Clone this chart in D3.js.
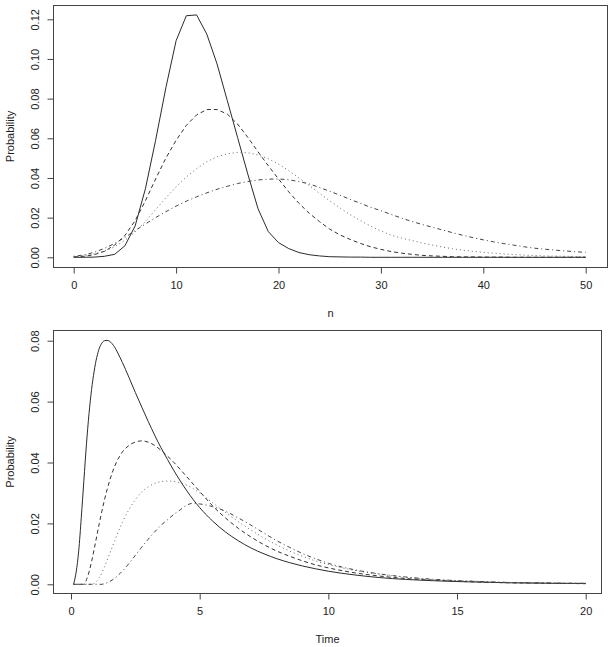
<!DOCTYPE html>
<html>
<head>
<meta charset="utf-8">
<script src="https://cdn.jsdelivr.net/npm/d3@7"></script>
<style>
  html, body { margin: 0; padding: 0; background: #fff; }
  svg { display: block; }
  text { font-family: "Liberation Sans", Arial, Helvetica, sans-serif; fill: #222; }
</style>
</head>
<body>
<svg id="chart" width="612" height="647"></svg>
<script>
// ---------- Top panel data (n = 0..50) ----------
const nValues = d3.range(0, 51);
const nSolid = [0,0,0.0001,0.0005,0.0015,0.0058,0.0158,0.0345,0.0590,0.0855,
  0.1092,0.1218,0.1222,0.1125,0.0975,0.0790,0.0605,0.0420,0.0245,0.0130,
  0.0074,0.0044,0.0024,0.0013,0.0007,0.0003,0.0002,0.0001,0.0001,0,
  0,0,0,0,0,0,0,0,0,0,
  0,0,0,0,0,0,0,0,0,0,0];
const nDashed = [0.0002,0.0005,0.0013,0.0030,0.0062,0.0110,0.0185,0.0285,0.0395,0.0500,
  0.0590,0.0665,0.0718,0.0745,0.0745,0.0722,0.0672,0.0605,0.0532,0.0462,
  0.0395,0.0330,0.0272,0.0222,0.0180,0.0142,0.0113,0.0090,0.0070,0.0053,
  0.0040,0.0029,0.0021,0.0015,0.0010,0.0007,0.0005,0.0003,0.0002,0.0002,
  0.0001,0.0001,0.0001,0,0,0,0,0,0,0,0];
const nDotted = [0.0003,0.0008,0.0017,0.0031,0.0053,0.0086,0.0128,0.0180,0.0240,0.0300,
  0.0355,0.0405,0.0447,0.0482,0.0507,0.0522,0.0529,0.0527,0.0516,0.0497,
  0.0470,0.0437,0.0400,0.0362,0.0323,0.0285,0.0249,0.0215,0.0185,0.0157,
  0.0133,0.0111,0.0097,0.0085,0.0072,0.0062,0.0052,0.0043,0.0036,0.0030,
  0.0025,0.0021,0.0017,0.0014,0.0011,0.0009,0.0007,0.0006,0.0005,0.0004,0.0003];
const nDotDash = [0.0005,0.0012,0.0025,0.0045,0.0070,0.0100,0.0135,0.0168,0.0200,0.0230,
  0.0258,0.0283,0.0305,0.0325,0.0343,0.0358,0.0372,0.0382,0.0390,0.0394,
  0.0395,0.0391,0.0382,0.0370,0.0352,0.0333,0.0313,0.0292,0.0272,0.0252,
  0.0235,0.0216,0.0198,0.0181,0.0166,0.0152,0.0138,0.0124,0.0111,0.0099,
  0.0088,0.0078,0.0069,0.0061,0.0053,0.0046,0.0041,0.0036,0.0032,0.0028,0.0025];
const nTicksX = [0, 10, 20, 30, 40, 50];
const nTicksY = [0, 0.02, 0.04, 0.06, 0.08, 0.10, 0.12];

// ---------- Bottom panel data (Time) ----------
const times = [0.1,0.2,0.3,0.4,0.5,0.6,0.7,0.8,0.9,1.0,1.1,1.2,1.3,1.4,1.5,1.6,1.7,1.8,1.9,2.0,
  2.25,2.5,2.75,3.0,3.25,3.5,3.75,4.0,4.25,4.5,4.75,5.0,
  5.5,6,6.5,7,7.5,8,8.5,9,9.5,10,
  11,12,13,14,15,16,17,18,19,20];
const tSolid = [0,0.004,0.011,0.022,0.034,0.046,0.056,0.064,0.070,0.0745,0.0775,0.0792,0.0800,0.0801,0.0798,0.0790,0.0778,0.0763,0.0746,0.0728,
  0.0680,0.0630,0.0582,0.0535,0.0490,0.0448,0.0410,0.0373,0.0339,0.0307,0.0278,0.0252,
  0.0208,0.0172,0.0143,0.0119,0.0100,0.0084,0.0071,0.0060,0.0051,0.0043,
  0.0031,0.0022,0.0016,0.0012,0.0009,0.0007,0.0005,0.0004,0.0003,0.0003];
const tDashed = [0,0,0,0,0,0.0015,0.004,0.0075,0.0115,0.0158,0.0200,0.0240,0.0277,0.0310,0.0340,0.0366,0.0388,0.0407,0.0422,0.0435,
  0.0456,0.0467,0.0471,0.0467,0.0456,0.0440,0.0421,0.0400,0.0377,0.0353,0.0329,0.0305,
  0.0258,0.0218,0.0184,0.0155,0.0130,0.0109,0.0092,0.0077,0.0064,0.0054,
  0.0038,0.0027,0.0019,0.0014,0.0010,0.0007,0.0005,0.0004,0.0003,0.0002];
const tDotted = [0,0,0,0,0,0,0,0,0.0003,0.0010,0.0022,0.0038,0.0057,0.0078,0.0100,0.0122,0.0144,0.0165,0.0185,0.0204,
  0.0245,0.0278,0.0303,0.0320,0.0331,0.0337,0.0339,0.0338,0.0333,0.0325,0.0314,0.0300,
  0.0268,0.0236,0.0206,0.0178,0.0152,0.0129,0.0109,0.0092,0.0077,0.0065,
  0.0046,0.0033,0.0023,0.0016,0.0012,0.0009,0.0006,0.0005,0.0004,0.0003];
const tDotDash = [0,0,0,0,0,0,0,0,0,0,0,0,0.0002,0.0005,0.0009,0.0014,0.0020,0.0027,0.0035,0.0044,
  0.0068,0.0095,0.0122,0.0148,0.0172,0.0194,0.0212,0.0230,0.0245,0.0260,0.0266,0.0264,
  0.0255,0.0240,0.0218,0.0194,0.0168,0.0143,0.0121,0.0101,0.0084,0.0069,
  0.0048,0.0034,0.0024,0.0017,0.0012,0.0009,0.0006,0.0005,0.0004,0.0003];
const tTicksX = [0, 5, 10, 15, 20];
const tTicksY = [0, 0.02, 0.04, 0.06, 0.08];

const dashes = ["none", "4,3", "1,3", "1,3,4,3"];
const strokes = ["#2b2b2b", "#333", "#666", "#444"];

const svg = d3.select("#chart");
svg.append("rect").attr("width", 612).attr("height", 647).attr("fill", "#fff");

function panel(cfg) {
  const g = svg.append("g");
  const x = d3.scaleLinear().domain(cfg.xDomain).range(cfg.xRange);
  const y = d3.scaleLinear().domain(cfg.yDomain).range(cfg.yRange);
  const b = cfg.box;

  const line = d3.line().x(d => x(d[0])).y(d => y(d[1]));
  if (cfg.smooth) line.curve(d3.curveMonotoneX);
  cfg.series.forEach((s, i) => {
    g.append("path")
      .datum(cfg.xs.map((v, k) => [v, s[k]]))
      .attr("fill", "none")
      .attr("stroke", strokes[i])
      .attr("stroke-width", 1)
      .attr("stroke-dasharray", dashes[i])
      .attr("d", line);
  });

  g.append("rect")
    .attr("x", b.x0).attr("y", b.y0)
    .attr("width", b.x1 - b.x0).attr("height", b.y1 - b.y0)
    .attr("fill", "none").attr("stroke", "#444").attr("stroke-width", 1);

  const xa = g.append("g").attr("transform", `translate(0,${b.y1})`)
    .call(d3.axisBottom(x).tickValues(cfg.xTicks).tickSize(6).tickPadding(8).tickFormat(d3.format("d")));
  xa.select(".domain").remove();
  xa.selectAll("line").attr("stroke", "#444");
  xa.selectAll("text").attr("font-size", 11).attr("fill", "#222")
    .attr("font-family", "Liberation Sans, Arial, sans-serif");

  const ya = g.append("g").attr("transform", `translate(${b.x0},0)`)
    .call(d3.axisLeft(y).tickValues(cfg.yTicks).tickSize(6).tickFormat(d3.format(".2f")));
  ya.select(".domain").remove();
  ya.selectAll("line").attr("stroke", "#444");
  ya.selectAll("text")
    .attr("font-size", 11).attr("fill", "#222")
    .attr("font-family", "Liberation Sans, Arial, sans-serif")
    .attr("x", null).attr("dy", null)
    .attr("text-anchor", "middle")
    .attr("dominant-baseline", "central")
    .attr("transform", `translate(${35 - b.x0},0) rotate(-90)`);

  g.append("text")
    .attr("x", (b.x0 + b.x1) / 2).attr("y", b.y1 + 45)
    .attr("text-anchor", "middle").attr("dominant-baseline", "central")
    .attr("font-size", 11).text(cfg.xTitle);
  g.append("text")
    .attr("transform", `translate(10,${(b.y0 + b.y1) / 2}) rotate(-90)`)
    .attr("text-anchor", "middle").attr("dominant-baseline", "central")
    .attr("font-size", 11).text("Probability");
}

panel({
  xs: nValues,
  series: [nSolid, nDashed, nDotted, nDotDash],
  xDomain: [0, 50], xRange: [73.7, 585.7],
  yDomain: [0, 0.12], yRange: [257.3, 19.3],
  box: { x0: 53.5, x1: 607.5, y0: 5.5, y1: 267.5 },
  xTicks: nTicksX, yTicks: nTicksY,
  xTitle: "n", smooth: false
});

panel({
  xs: times,
  series: [tSolid, tDashed, tDotted, tDotDash],
  xDomain: [0, 20], xRange: [71, 585.7],
  yDomain: [0, 0.08], yRange: [584.3, 340.7],
  box: { x0: 53.5, x1: 601.5, y0: 330.5, y1: 593.5 },
  xTicks: tTicksX, yTicks: tTicksY,
  xTitle: "Time", smooth: true
});
</script>
</body>
</html>
